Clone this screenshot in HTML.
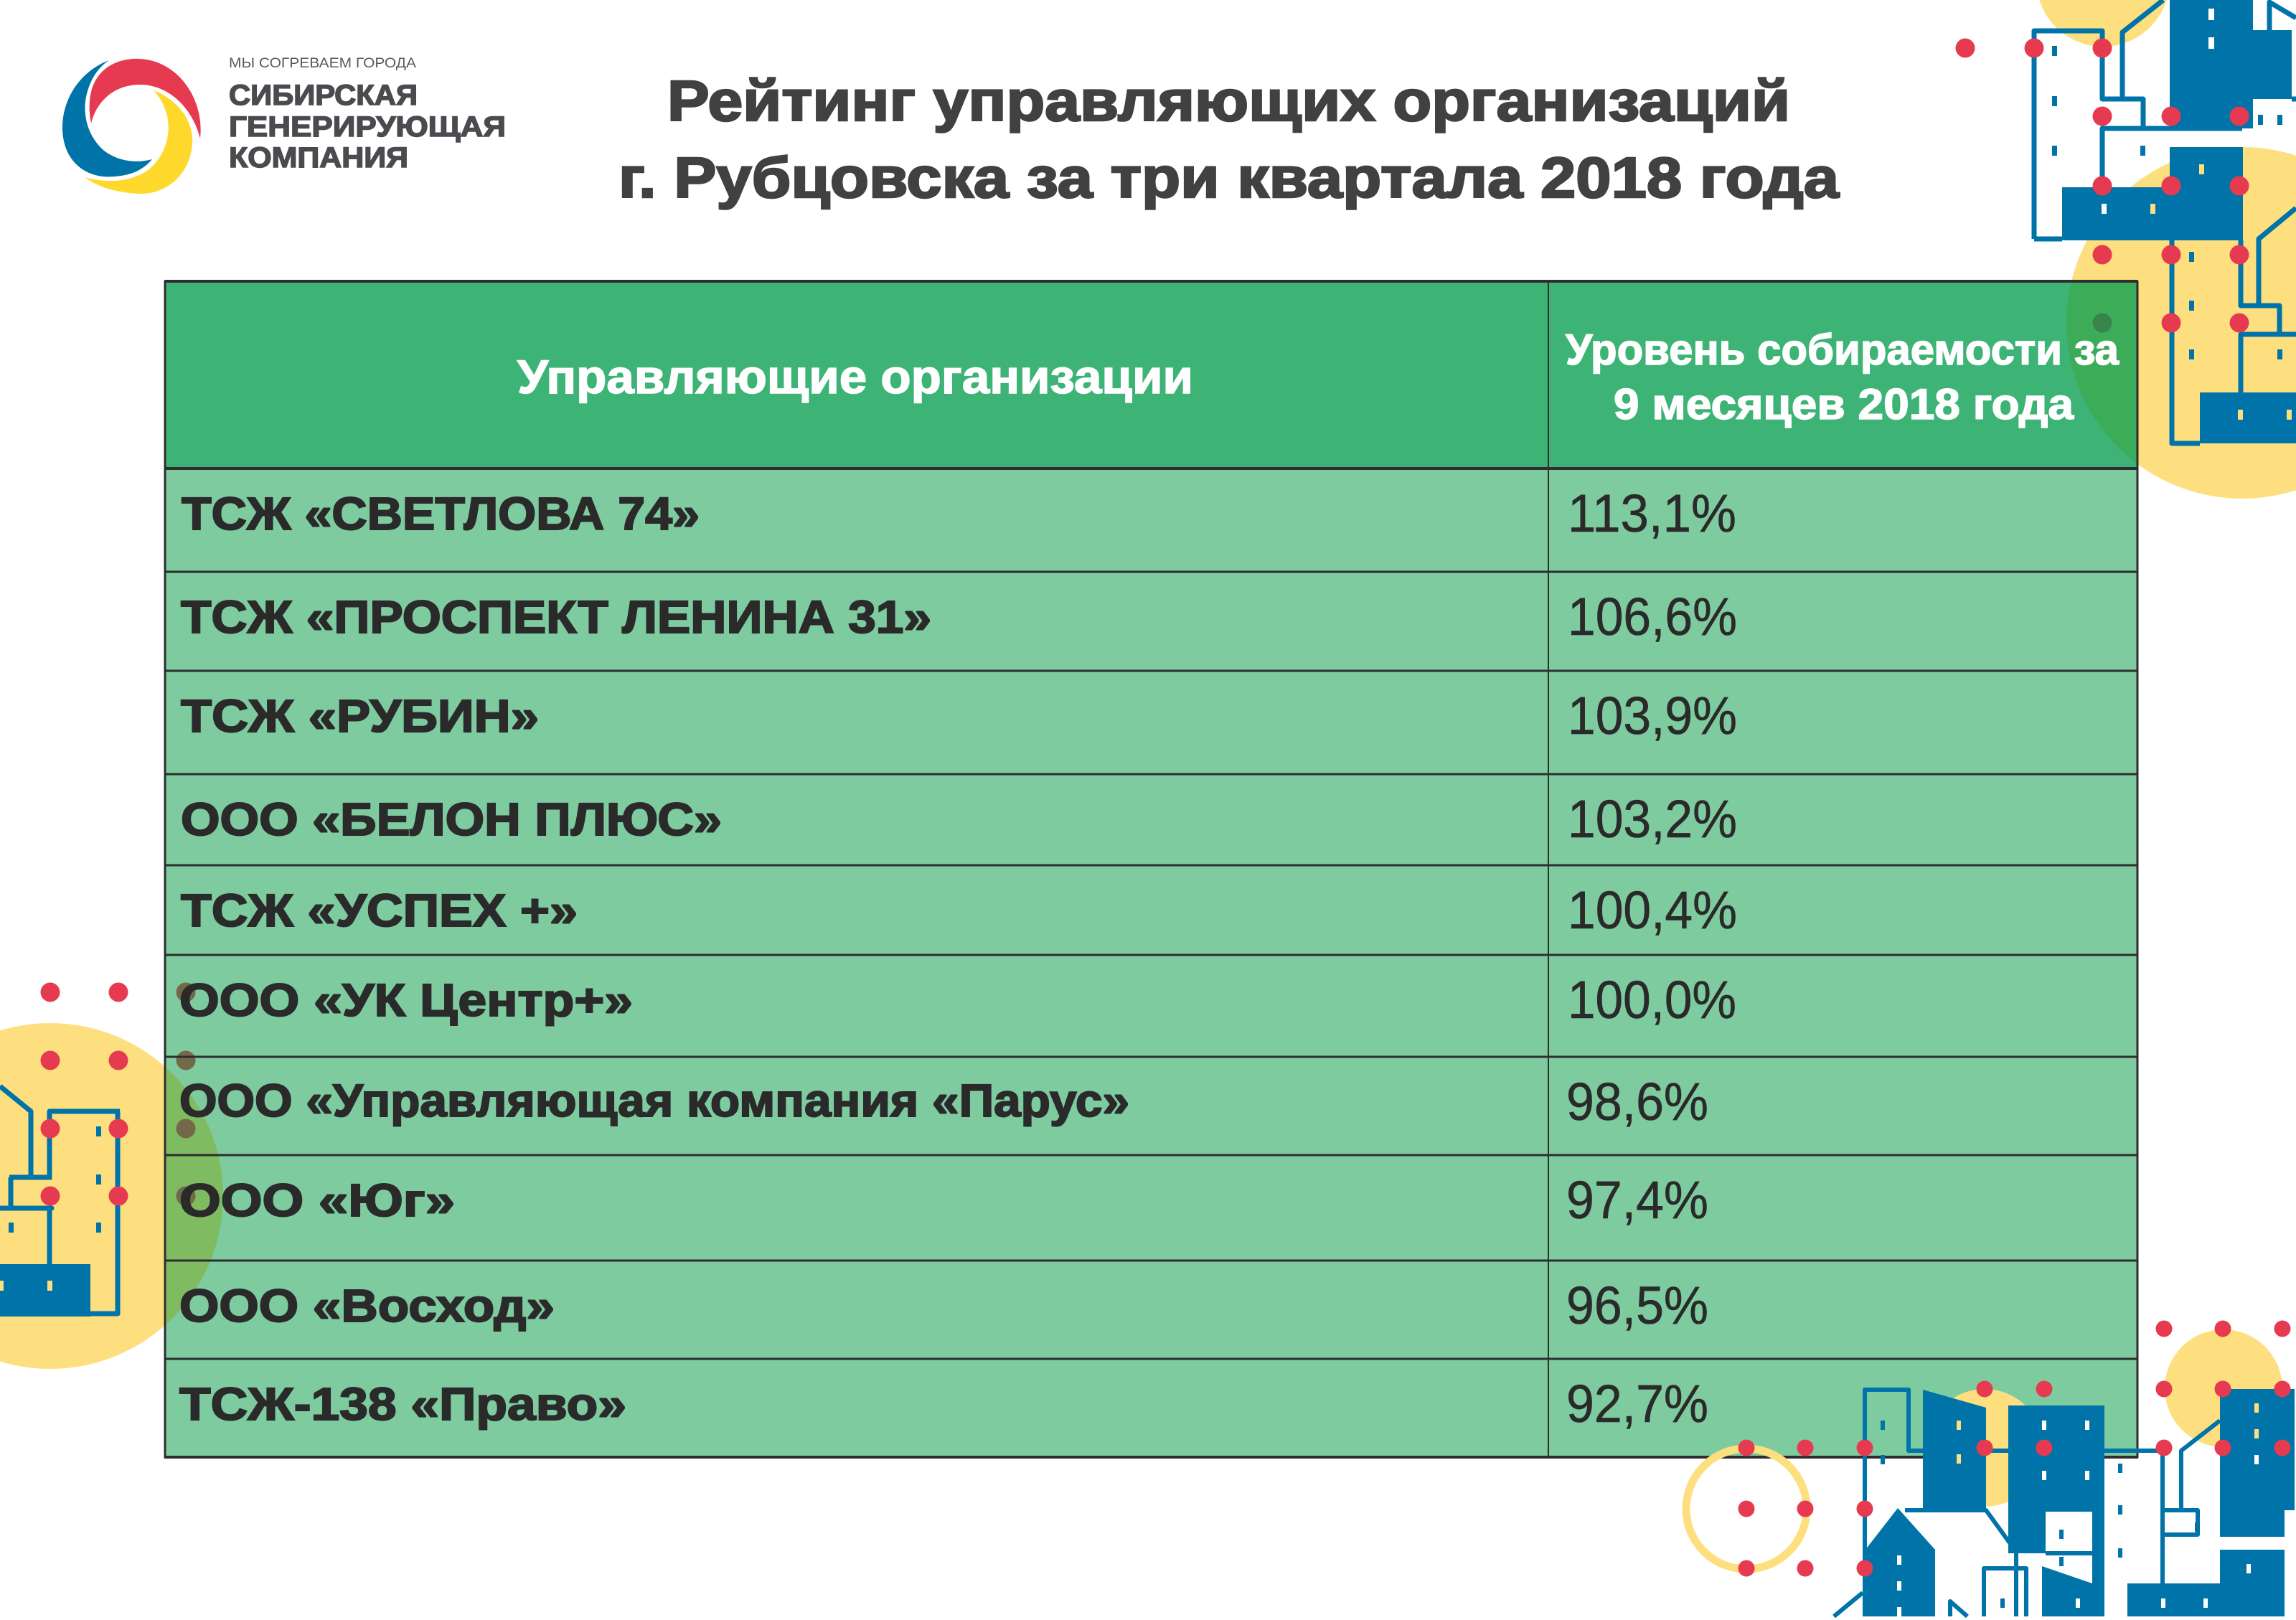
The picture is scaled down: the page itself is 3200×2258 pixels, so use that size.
<!DOCTYPE html>
<html>
<head>
<meta charset="utf-8">
<style>
  html,body{margin:0;padding:0;background:#fff;}
  body{width:3200px;height:2258px;overflow:hidden;}
  svg{display:block;}
  .t{font-family:"Liberation Sans","Noto Sans CJK SC",sans-serif;}
</style>
</head>
<body>
<svg width="3200" height="2258" viewBox="0 0 3200 2258" xmlns="http://www.w3.org/2000/svg">
  <rect x="0" y="0" width="3200" height="2258" fill="#ffffff"/>

  <!-- ===== LOGO ===== -->
  <path d="M152,84 C110,100 86,140 87,180 C88,225 120,250 160,246 C185,244 200,236 212,222 C190,228 165,225 145,210 C122,190 115,160 120,135 C125,110 138,93 152,84 Z" fill="#0073a8"/>
  <path d="M127,172 C115,110 150,80 195,82 C250,85 285,140 279,193 C268,150 235,118 195,118 C160,118 135,140 127,172 Z" fill="#e63a51"/>
  <path d="M214,126 C250,140 270,170 268,200 C265,245 230,272 192,270 C160,268 135,260 118,247 C145,255 180,255 205,238 C230,220 240,185 232,158 C228,145 222,134 214,126 Z" fill="#fed92c"/>
  <g class="t" fill="#4a4a4f">
    <text x="319" y="94" font-size="19" textLength="261" lengthAdjust="spacingAndGlyphs" fill="#5a5a5c">МЫ СОГРЕВАЕМ ГОРОДА</text>
    <g font-size="40" font-weight="bold" stroke="#4a4a4f" stroke-width="1.5" paint-order="stroke">
      <text x="319" y="146" textLength="263" lengthAdjust="spacingAndGlyphs">СИБИРСКАЯ</text>
      <text x="319" y="190" textLength="386" lengthAdjust="spacingAndGlyphs">ГЕНЕРИРУЮЩАЯ</text>
      <text x="319" y="233" textLength="250" lengthAdjust="spacingAndGlyphs">КОМПАНИЯ</text>
    </g>
  </g>

  <!-- ===== TITLE ===== -->
  <g class="t" fill="#414141" font-weight="bold" font-size="80" stroke="#414141" stroke-width="2.5" paint-order="stroke">
    <text x="930" y="168" textLength="1565" lengthAdjust="spacingAndGlyphs">Рейтинг управляющих организаций</text>
    <text x="862" y="275" textLength="1701" lengthAdjust="spacingAndGlyphs">г. Рубцовска за три квартала 2018 года</text>
  </g>

  <!-- ===== TOP-RIGHT DECORATION (behind table) ===== -->
  <g>
    <circle cx="2931" cy="-28" r="93" fill="#fedf80"/>
    <circle cx="3125" cy="450" r="245" fill="#fedf80"/>
    <g fill="#0073a8">
      <rect x="3024" y="0" width="116" height="179"/>
      <rect x="3140" y="42" width="54" height="96"/>
      <rect x="3024" y="205" width="102" height="130"/>
      <rect x="2874" y="261" width="252" height="74"/>
      <rect x="3066" y="547" width="134" height="71"/>
    </g>
    <g fill="none" stroke="#0073a8" stroke-width="7" stroke-linejoin="round">
      <polyline points="2835,333 2835,43 2930,43 2930,138 2987,138 2987,179"/>
      <polyline points="2958,138 2958,45 3015,0"/>
      <polyline points="2930,259 2930,179 3125,179"/>
      <polyline points="2835,333 2874,333"/>
      <polyline points="3027,335 3027,618 3066,618"/>
      <polyline points="3123,335 3123,426 3177,426 3177,466 3123,466 3123,547"/>
      <polyline points="3123,466 3200,466"/>
      <polyline points="3148,426 3148,333 3200,290"/>
      <polyline points="3163,42 3163,3 3200,25"/>
      <polyline points="3194,138 3200,138"/>
    </g>
    <g fill="#ffffff">
      <rect x="3078" y="12" width="8" height="16"/>
      <rect x="3078" y="52" width="8" height="16"/>
      <rect x="2929" y="284" width="7" height="14"/>
    </g>
    <g fill="#0073a8">
      <rect x="2860" y="64" width="7" height="14"/>
      <rect x="2860" y="134" width="7" height="14"/>
      <rect x="2860" y="203" width="7" height="14"/>
      <rect x="2983" y="203" width="7" height="14"/>
      <rect x="3147" y="160" width="7" height="14"/>
      <rect x="3174" y="160" width="7" height="14"/>
      <rect x="3051" y="351" width="7" height="14"/>
      <rect x="3051" y="419" width="7" height="14"/>
      <rect x="3051" y="487" width="7" height="14"/>
      <rect x="3174" y="487" width="7" height="14"/>
    </g>
    <g fill="#fedf80">
      <rect x="3065" y="229" width="7" height="14"/>
      <rect x="2997" y="284" width="7" height="14"/>
      <rect x="3119" y="571" width="7" height="14"/>
      <rect x="3187" y="571" width="7" height="14"/>
    </g>
    <g fill="#e63a51">
      <circle cx="2739" cy="67" r="13.5"/>
      <circle cx="2835" cy="67" r="13.5"/>
      <circle cx="2930" cy="67" r="13.5"/>
      <circle cx="2930" cy="162" r="13.5"/>
      <circle cx="3026" cy="162" r="13.5"/>
      <circle cx="3121" cy="162" r="13.5"/>
      <circle cx="2930" cy="259" r="13.5"/>
      <circle cx="3026" cy="259" r="13.5"/>
      <circle cx="3121" cy="259" r="13.5"/>
      <circle cx="2930" cy="355" r="13.5"/>
      <circle cx="3026" cy="355" r="13.5"/>
      <circle cx="3121" cy="355" r="13.5"/>
      <circle cx="2930" cy="450" r="13.5"/>
      <circle cx="3026" cy="450" r="13.5"/>
      <circle cx="3121" cy="450" r="13.5"/>
    </g>
  </g>

  <!-- ===== LEFT DECORATION (behind table) ===== -->
  <g>
    <circle cx="70" cy="1667" r="241" fill="#fedf80"/>
    <g fill="none" stroke="#0073a8" stroke-width="7" stroke-linejoin="round">
      <polyline points="0,1514 43,1549 43,1641"/>
      <polyline points="13,1641 72,1641"/>
      <polyline points="69,1644 69,1549 167,1549"/>
      <polyline points="164,1549 164,1831 126,1831"/>
      <polyline points="15,1641 15,1684"/>
      <polyline points="0,1684 72,1684 69,1684 69,1762"/>
    </g>
    <rect x="0" y="1762" width="126" height="73" fill="#0073a8"/>
    <g fill="#0073a8">
      <rect x="134" y="1570" width="7" height="14"/>
      <rect x="134" y="1637" width="7" height="14"/>
      <rect x="134" y="1704" width="7" height="14"/>
      <rect x="12" y="1704" width="7" height="14"/>
    </g>
    <g fill="#fedf80">
      <rect x="66" y="1785" width="7" height="14"/>
      <rect x="0" y="1785" width="5" height="14"/>
    </g>
    <g fill="#e63a51">
      <circle cx="70" cy="1383" r="13.5"/><circle cx="165" cy="1383" r="13.5"/><circle cx="259" cy="1383" r="13.5"/>
      <circle cx="70" cy="1478" r="13.5"/><circle cx="165" cy="1478" r="13.5"/><circle cx="259" cy="1478" r="13.5"/>
      <circle cx="70" cy="1573" r="13.5"/><circle cx="165" cy="1573" r="13.5"/><circle cx="259" cy="1573" r="13.5"/>
      <circle cx="70" cy="1667" r="13.5"/><circle cx="165" cy="1667" r="13.5"/><circle cx="259" cy="1667" r="13.5"/>
    </g>
  </g>

  <!-- ===== TABLE ===== -->
  <rect x="230" y="392" width="2749" height="261" fill="rgba(0,155,75,0.76)"/>
  <rect x="230" y="653" width="2749" height="1378" fill="rgba(0,151,65,0.5)"/>
  <g stroke="#2e2e2e" stroke-width="3" fill="none">
    <line x1="229" y1="392" x2="2980" y2="392" stroke-width="4"/>
    <line x1="229" y1="653" x2="2980" y2="653" stroke-width="4"/>
    <line x1="229" y1="797" x2="2980" y2="797"/>
    <line x1="229" y1="935" x2="2980" y2="935"/>
    <line x1="229" y1="1079" x2="2980" y2="1079"/>
    <line x1="229" y1="1206" x2="2980" y2="1206"/>
    <line x1="229" y1="1331" x2="2980" y2="1331"/>
    <line x1="229" y1="1473" x2="2980" y2="1473"/>
    <line x1="229" y1="1610" x2="2980" y2="1610"/>
    <line x1="229" y1="1757" x2="2980" y2="1757"/>
    <line x1="229" y1="1894" x2="2980" y2="1894"/>
    <line x1="229" y1="2031" x2="2980" y2="2031" stroke-width="4"/>
    <line x1="230" y1="392" x2="230" y2="2032"/>
    <line x1="2979" y1="392" x2="2979" y2="2032"/>
    <line x1="2158" y1="392" x2="2158" y2="2032" stroke-width="2"/>
  </g>

  <!-- header text -->
  <g class="t" fill="#ffffff" font-weight="bold" stroke="#ffffff" stroke-width="1.5" paint-order="stroke">
    <text x="721" y="548" font-size="66" textLength="942" lengthAdjust="spacingAndGlyphs">Управляющие организации</text>
    <text x="2182" y="508" font-size="60" textLength="771" lengthAdjust="spacingAndGlyphs">Уровень собираемости за</text>
    <text x="2249" y="584" font-size="60" textLength="641" lengthAdjust="spacingAndGlyphs">9 месяцев 2018 года</text>
  </g>

  <!-- names -->
  <g class="t" fill="#2a2a2a" font-weight="bold" font-size="64" stroke="#2a2a2a" stroke-width="2" paint-order="stroke">
    <text x="253" y="738" textLength="722" lengthAdjust="spacingAndGlyphs">ТСЖ «СВЕТЛОВА 74»</text>
    <text x="252" y="882" textLength="1046" lengthAdjust="spacingAndGlyphs">ТСЖ «ПРОСПЕКТ ЛЕНИНА 31»</text>
    <text x="252" y="1020" textLength="499" lengthAdjust="spacingAndGlyphs">ТСЖ «РУБИН»</text>
    <text x="252" y="1164" textLength="754" lengthAdjust="spacingAndGlyphs">ООО «БЕЛОН ПЛЮС»</text>
    <text x="252" y="1291" textLength="553" lengthAdjust="spacingAndGlyphs">ТСЖ «УСПЕХ +»</text>
    <text x="250" y="1416" textLength="632" lengthAdjust="spacingAndGlyphs">ООО «УК Центр+»</text>
    <text x="250" y="1556" textLength="1324" lengthAdjust="spacingAndGlyphs">ООО «Управляющая компания «Парус»</text>
    <text x="250" y="1695" textLength="384" lengthAdjust="spacingAndGlyphs">ООО «Юг»</text>
    <text x="250" y="1842" textLength="523" lengthAdjust="spacingAndGlyphs">ООО «Восход»</text>
    <text x="250" y="1979" textLength="623" lengthAdjust="spacingAndGlyphs">ТСЖ-138 «Право»</text>
  </g>

  <!-- percentages -->
  <g class="t" fill="#2a2a2a" font-size="74" stroke="#2a2a2a" stroke-width="0.6" paint-order="stroke">
    <text x="2185" y="741" textLength="235" lengthAdjust="spacingAndGlyphs">113,1%</text>
    <text x="2185" y="885" textLength="236" lengthAdjust="spacingAndGlyphs">106,6%</text>
    <text x="2185" y="1023" textLength="236" lengthAdjust="spacingAndGlyphs">103,9%</text>
    <text x="2185" y="1167" textLength="236" lengthAdjust="spacingAndGlyphs">103,2%</text>
    <text x="2185" y="1294" textLength="236" lengthAdjust="spacingAndGlyphs">100,4%</text>
    <text x="2185" y="1419" textLength="235" lengthAdjust="spacingAndGlyphs">100,0%</text>
    <text x="2183" y="1561" textLength="198" lengthAdjust="spacingAndGlyphs">98,6%</text>
    <text x="2183" y="1698" textLength="198" lengthAdjust="spacingAndGlyphs">97,4%</text>
    <text x="2183" y="1845" textLength="198" lengthAdjust="spacingAndGlyphs">96,5%</text>
    <text x="2183" y="1982" textLength="198" lengthAdjust="spacingAndGlyphs">92,7%</text>
  </g>

  <!-- ===== BOTTOM-RIGHT DECORATION (on top) ===== -->
  <g>
    <circle cx="2434" cy="2103" r="84" fill="none" stroke="#fedf80" stroke-width="11"/>
    <circle cx="2766" cy="2018" r="82" fill="#fedf80"/>
    <circle cx="3099" cy="1935" r="82" fill="#fedf80"/>
    <g fill="#0073a8">
      <polygon points="2680,1937 2768,1962 2768,2103 2680,2103"/>
      <rect x="2799" y="1959" width="134" height="206"/>
      <rect x="2916" y="2107" width="17" height="146"/>
      <polygon points="2596,2165 2645,2102 2697,2160 2697,2253 2596,2253"/>
      <rect x="3094" y="1936" width="104" height="169"/>
      <rect x="3094" y="2105" width="90" height="37"/>
      <rect x="2965" y="2207" width="219" height="46"/>
      <rect x="3094" y="2160" width="90" height="47"/>
      <polygon points="2846,2183 2916,2207 2916,2253 2846,2253"/>
    </g>
    <rect x="2851" y="2107" width="65" height="58" fill="#ffffff"/>
    <g fill="none" stroke="#0073a8" stroke-width="6" stroke-linejoin="round">
      <polyline points="2599,2253 2599,1937 2660,1937 2660,2022 3014,2022 3014,2105 3063,2105 3063,2139 3014,2139 3014,2207"/>
      <polyline points="3014,2105 3014,2139"/>
      <polyline points="3094,1980 3040,2022 3040,2105"/>
      <polyline points="2655,2105 2768,2105 2810,2163 2810,2253"/>
      <polyline points="2765,2253 2765,2186 2824,2186 2824,2253"/>
      <polyline points="2556,2253 2596,2220"/>
      <polyline points="2718,2253 2718,2232 2742,2253"/>
      <polyline points="2933,2165 2851,2165"/>
    </g>
    <g fill="#fedf80">
      <rect x="2727" y="1980" width="6" height="13"/>
      <rect x="2727" y="2027" width="6" height="13"/>
      <rect x="3142" y="1956" width="6" height="13"/>
      <rect x="3142" y="1992" width="6" height="13"/>
    </g>
    <g fill="#ffffff">
      <rect x="2846" y="1980" width="6" height="13"/>
      <rect x="2906" y="1980" width="6" height="13"/>
      <rect x="2846" y="2050" width="6" height="13"/>
      <rect x="2906" y="2050" width="6" height="13"/>
      <rect x="3142" y="2028" width="6" height="13"/>
      <rect x="2644" y="2168" width="6" height="13"/>
      <rect x="2644" y="2204" width="6" height="13"/>
      <rect x="2644" y="2240" width="6" height="13"/>
      <rect x="3012" y="2228" width="6" height="13"/>
      <rect x="3071" y="2228" width="6" height="13"/>
      <rect x="3131" y="2180" width="6" height="13"/>
      <rect x="2893" y="2228" width="6" height="13"/>
    </g>
    <g fill="#0073a8">
      <rect x="2621" y="1980" width="6" height="13"/>
      <rect x="2621" y="2028" width="6" height="13"/>
      <rect x="2952" y="2040" width="6" height="13"/>
      <rect x="2952" y="2098" width="6" height="13"/>
      <rect x="2952" y="2158" width="6" height="13"/>
      <rect x="2870" y="2132" width="6" height="13"/>
      <rect x="2870" y="2170" width="6" height="13"/>
      <rect x="3059" y="2122" width="6" height="13"/>
      <rect x="2788" y="2228" width="6" height="13"/>
    </g>
    <g fill="#e63a51">
      <circle cx="3016" cy="1852" r="11.5"/><circle cx="3098" cy="1852" r="11.5"/><circle cx="3181" cy="1852" r="11.5"/>
      <circle cx="2766" cy="1936" r="11.5"/><circle cx="2849" cy="1936" r="11.5"/>
      <circle cx="3016" cy="1936" r="11.5"/><circle cx="3098" cy="1936" r="11.5"/><circle cx="3181" cy="1936" r="11.5"/>
      <circle cx="2434" cy="2018" r="11.5"/><circle cx="2516" cy="2018" r="11.5"/><circle cx="2599" cy="2018" r="11.5"/>
      <circle cx="2766" cy="2018" r="11.5"/><circle cx="2849" cy="2018" r="11.5"/>
      <circle cx="3016" cy="2018" r="11.5"/><circle cx="3098" cy="2018" r="11.5"/><circle cx="3181" cy="2018" r="11.5"/>
      <circle cx="2434" cy="2103" r="11.5"/><circle cx="2516" cy="2103" r="11.5"/><circle cx="2599" cy="2103" r="11.5"/>
      <circle cx="2434" cy="2186" r="11.5"/><circle cx="2516" cy="2186" r="11.5"/><circle cx="2599" cy="2186" r="11.5"/>
    </g>
  </g>
</svg>
</body>
</html>
